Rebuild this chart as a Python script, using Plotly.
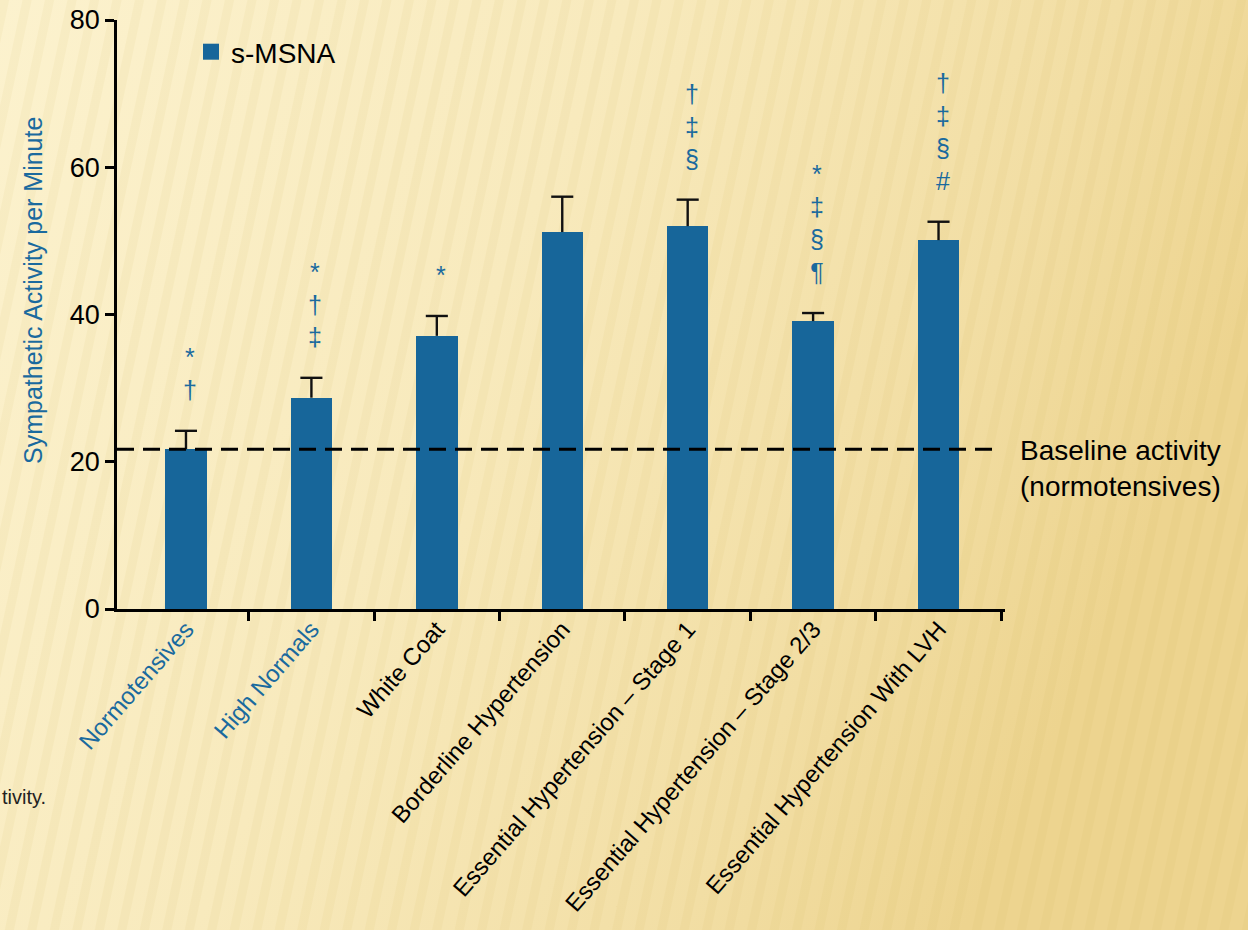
import base64
import plotly.graph_objects as go

# ---------------- data ----------------
categories = [
    "Normotensives",
    "High Normals",
    "White Coat",
    "Borderline Hypertension",
    "Essential Hypertension – Stage 1",
    "Essential Hypertension – Stage 2/3",
    "Essential Hypertension With LVH",
]
msna_mean = [21.7, 28.7, 37.1, 51.2, 52.0, 39.1, 50.1]
msna_err = [2.5, 2.7, 2.7, 4.8, 3.6, 1.1, 2.5]
significance = [
    ["*", "†"],
    ["*", "†", "‡"],
    ["*"],
    [],
    ["†", "‡", "§"],
    ["*", "‡", "§", "¶"],
    ["†", "‡", "§", "#"],
]
baseline_value = 21.7
y_ticks = [0, 20, 40, 60, 80]

# ---------------- styles ----------------
BLUE = "#17669A"
TXT_BLUE = "#1A6A9E"
FONT = "Liberation Sans, Arial, sans-serif"
label_colors = [TXT_BLUE, TXT_BLUE, "black", "black", "black", "black", "black"]

W, H = 1248, 930
L, R, T, B = 117, 243, 20, 321
pw, ph = W - L - R, H - T - B

# background (slide-like warm gradient with faint stripes)
svg = f"""<svg xmlns='http://www.w3.org/2000/svg' width='{W}' height='{H}' viewBox='0 0 {W} {H}' preserveAspectRatio='none'>
<defs>
<linearGradient id='g' x1='0' y1='0' x2='1' y2='0.35'>
<stop offset='0' stop-color='#FCF2CE'/>
<stop offset='0.45' stop-color='#F8EABD'/>
<stop offset='0.8' stop-color='#F2DEA4'/>
<stop offset='1' stop-color='#EDD48F'/>
</linearGradient>
<pattern id='p' width='22' height='1400' patternUnits='userSpaceOnUse' patternTransform='rotate(12)'>
<rect x='0' y='0' width='9' height='1400' fill='#C9A64A' opacity='0.07'/>
</pattern>
</defs>
<rect width='{W}' height='{H}' fill='url(#g)'/>
<rect x='-300' y='-300' width='{W + 600}' height='{H + 600}' fill='url(#p)'/>
</svg>"""
bg_uri = "data:image/svg+xml;base64," + base64.b64encode(svg.encode()).decode()

x_idx = list(range(len(categories)))

fig = go.Figure()
fig.add_trace(go.Bar(
    x=x_idx,
    y=msna_mean,
    width=0.33,
    name="s-MSNA",
    marker=dict(color=BLUE, line=dict(width=0)),
    showlegend=False,
))

# upper-only error bars (stem from bar top + cap)
cap_half = 0.088
ex, ey = [], []
for xi, m, e in zip(x_idx, msna_mean, msna_err):
    ex += [xi, xi, None, xi - cap_half, xi + cap_half, None]
    ey += [m, m + e, None, m + e, m + e, None]
fig.add_trace(go.Scatter(x=ex, y=ey, mode="lines",
                         line=dict(color="#111111", width=2.4),
                         showlegend=False, hoverinfo="skip"))

# legend entry (square marker)
fig.add_trace(go.Scatter(x=[None], y=[None], mode="markers", name="s-MSNA",
                         marker=dict(symbol="square", size=17, color=BLUE),
                         showlegend=True))

# baseline dashed line
fig.add_shape(type="line", xref="paper", yref="y",
              x0=0, x1=(997 - L) / pw, y0=baseline_value, y1=baseline_value,
              line=dict(color="black", width=3, dash="17px,9px"), layer="above")

annotations = []
for i, syms in enumerate(significance):
    if not syms:
        continue
    annotations.append(dict(
        x=x_idx[i], y=msna_mean[i] + msna_err[i], xref="x", yref="y",
        text="<br>".join(syms), showarrow=False,
        xanchor="center", yanchor="bottom", xshift=4, yshift=25,
        font=dict(family=FONT, size=25, color=TXT_BLUE), align="center",
    ))

annotations.append(dict(
    x=(1018 - L) / pw, y=baseline_value, xref="paper", yref="y",
    text="Baseline activity<br>(normotensives)", showarrow=False,
    xanchor="left", yanchor="middle", yshift=-19, align="left",
    font=dict(family=FONT, size=28, color="black"),
))
annotations.append(dict(
    x=(33 - L) / pw, y=(T + ph - 291) / ph, xref="paper", yref="paper",
    text="Sympathetic Activity per Minute", textangle=-90, showarrow=False,
    xanchor="center", yanchor="middle",
    font=dict(family=FONT, size=25, color=TXT_BLUE),
))
annotations.append(dict(
    x=-L / pw, y=(T + ph - 797) / ph, xref="paper", yref="paper",
    text="tivity.", showarrow=False, xanchor="left", yanchor="middle",
    font=dict(family=FONT, size=20, color="#222222"),
))

ticktext = [f"<span style='color:{c}'>{t}</span>" for t, c in zip(categories, label_colors)]

fig.update_layout(
    width=W, height=H,
    margin=dict(l=L, r=R, t=T, b=B, autoexpand=False),
    paper_bgcolor="#F6E7B6",
    plot_bgcolor="rgba(0,0,0,0)",
    font=dict(family=FONT, color="black"),
    images=[dict(source=bg_uri, xref="paper", yref="paper",
                 x=-L / pw, y=1 + T / ph, sizex=W / pw, sizey=H / ph,
                 xanchor="left", yanchor="top", sizing="stretch", layer="below")],
    annotations=annotations,
    showlegend=True,
    legend=dict(x=(191 - L) / pw, y=1 - (27 - T) / ph, xanchor="left", yanchor="top",
                bgcolor="rgba(0,0,0,0)", itemsizing="trace",
                font=dict(family=FONT, size=28, color="black")),
    bargap=0,
)
fig.update_xaxes(
    range=[-0.55, 6.53], tickmode="array", tickvals=x_idx, ticktext=ticktext,
    ticks="", tickangle=-49, ticklabelstandoff=-6, automargin=False,
    tickfont=dict(family=FONT, size=24, color="black"),
    showline=True, linecolor="black", linewidth=2.5, showgrid=False, zeroline=False,
    minor=dict(tickmode="array", tickvals=[i + 0.5 for i in x_idx], ticks="outside",
               ticklen=9, tickwidth=2.5, tickcolor="black", showgrid=False),
)
fig.update_yaxes(
    range=[0, 80], tickmode="array", tickvals=y_ticks, automargin=False,
    ticks="outside", ticklen=9, tickwidth=2.5, tickcolor="black",
    tickfont=dict(family=FONT, size=27, color="black"),
    showline=True, linecolor="black", linewidth=2.5, showgrid=False, zeroline=False,
)

fig.write_html("out.html")
